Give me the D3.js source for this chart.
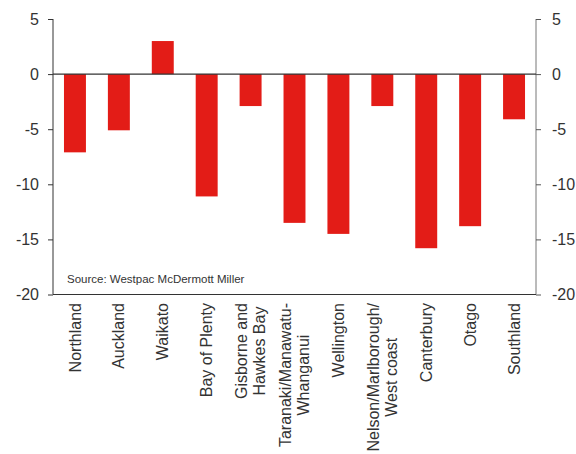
<!DOCTYPE html>
<html>
<head>
<meta charset="utf-8">
<script src="https://cdn.jsdelivr.net/npm/d3@7"></script>
<style>
  html, body { margin: 0; padding: 0; background: #fff; }
  svg { display: block; font-family: "Liberation Sans", Arial, sans-serif; }
</style>
</head>
<body>
<svg id="chart" width="576" height="454"></svg>
<script>
// Regional series: each category label split into its display lines
const regions = [
  ["Northland"],
  ["Auckland"],
  ["Waikato"],
  ["Bay of Plenty"],
  ["Gisborne and", "Hawkes Bay"],
  ["Taranaki/Manawatu-", "Whanganui"],
  ["Wellington"],
  ["Nelson/Marlborough/", "West coast"],
  ["Canterbury"],
  ["Otago"],
  ["Southland"]
];
const values = [-7.1, -5.1, 3.0, -11.1, -2.9, -13.5, -14.5, -2.9, -15.8, -13.8, -4.1];
const yTicks = [5, 0, -5, -10, -15, -20];
const sourceNote = "Source: Westpac McDermott Miller";

const svg = d3.select("#chart");
const plotLeft = 53, plotRight = 536, plotTop = 19, plotBottom = 294.5;
const textColor = "#333";
const barColor = "#e31c17";
// plain hyphen-minus for negative tick labels
const fmt = d => String(d);

const keys = regions.map(r => r.join(" "));
const x = d3.scaleBand().domain(keys).range([plotLeft, plotRight])
  .paddingInner(0.5).paddingOuter(0.25);
const y = d3.scaleLinear().domain([-20, 5]).range([plotBottom, plotTop]);

// Bars
svg.append("g").selectAll("rect")
  .data(values)
  .join("rect")
  .attr("x", (d, i) => x(keys[i]))
  .attr("width", x.bandwidth())
  .attr("y", d => y(Math.max(0, d)))
  .attr("height", d => Math.abs(y(d) - y(0)))
  .attr("fill", barColor);

// Left axis
const gl = svg.append("g").attr("transform", `translate(${plotLeft},0)`)
  .call(d3.axisLeft(y).tickValues(yTicks).tickSize(5).tickPadding(9).tickFormat(fmt));
gl.select(".domain").attr("stroke", "#333").attr("d", `M0,${plotTop}V${plotBottom}`);
gl.selectAll(".tick line").attr("stroke", "#333");
gl.selectAll(".tick text").attr("fill", textColor).style("font-size", "16px")
  .style("font-family", "'Liberation Sans', Arial, sans-serif");

// Right axis
const gr = svg.append("g").attr("transform", `translate(${plotRight},0)`)
  .call(d3.axisRight(y).tickValues(yTicks).tickSize(5).tickPadding(11).tickFormat(fmt));
gr.select(".domain").attr("stroke", "#777").attr("d", `M0,${plotTop}V${plotBottom}`);
gr.selectAll(".tick line").attr("stroke", "#555");
gr.selectAll(".tick text").attr("fill", textColor).style("font-size", "16px")
  .style("font-family", "'Liberation Sans', Arial, sans-serif");

// Zero line and base line
svg.append("line").attr("x1", plotLeft).attr("x2", plotRight)
  .attr("y1", y(0)).attr("y2", y(0)).attr("stroke", "#333").attr("stroke-width", 1.2);
svg.append("line").attr("x1", plotLeft).attr("x2", plotRight)
  .attr("y1", y(-20)).attr("y2", y(-20)).attr("stroke", "#333").attr("stroke-width", 1.2);

// Source note
svg.append("text").attr("x", 67).attr("y", 283)
  .attr("fill", textColor).style("font-size", "11.5px").text(sourceNote);

// Rotated category labels, lines centred on each other, block hanging from the axis
const lh = 18;
const labelTop = 303;
regions.forEach((lines, i) => {
  const cx = x(keys[i]) + x.bandwidth() / 2;
  const g = svg.append("g").attr("transform", `translate(${cx},${labelTop}) rotate(-90)`);
  const texts = lines.map((t, j) => g.append("text")
    .attr("fill", textColor).style("font-size", "16px")
    .attr("text-anchor", "middle")
    .attr("y", (j - (lines.length - 1) / 2) * lh + 5.6)
    .text(t));
  const maxW = d3.max(texts, t => t.node().getComputedTextLength());
  texts.forEach(t => t.attr("x", -maxW / 2));
});
</script>
</body>
</html>
